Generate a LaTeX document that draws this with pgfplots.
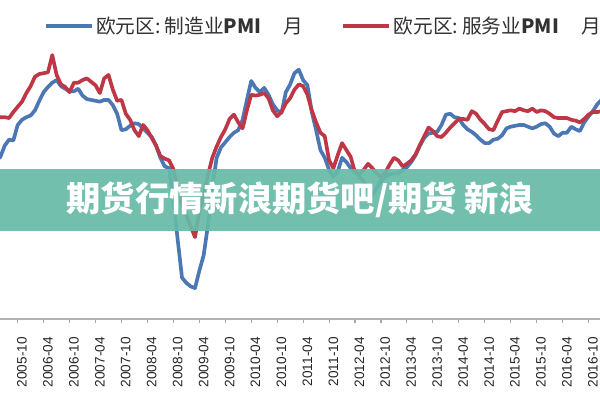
\documentclass[border=0pt]{standalone}
\usepackage{pgfplots}
\pgfplotsset{compat=1.18}
\usepackage{pgfplotstable}
\usepackage{fontspec}
\setmainfont{Liberation Sans}
\newfontfamily\cjk{Noto Sans CJK SC}
\definecolor{mfgblue}{RGB}{75,120,180}
\definecolor{svcred}{RGB}{190,55,70}
\definecolor{banner}{RGB}{104,186,168}
\definecolor{txtgray}{RGB}{50,50,50}

\pgfplotstableread{
m mfg svc
3 48.3 53.4
4 48.7 53.3
5 50.0 53.3
6 50.7 53.2
7 50.6 53.9
8 52.4 54.5
9 53.0 55.1
10 53.3 56.1
11 53.5 56.9
12 54.1 58.0
13 55.2 58.3
14 56.2 58.4
15 56.8 58.5
16 57.3 60.5
17 57.6 58.2
18 56.9 57.1
19 56.6 56.8
20 56.3 56.2
21 56.3 57.3
22 56.6 57.3
23 55.8 57.6
24 55.4 57.8
25 55.3 57.4
26 55.2 57.0
27 55.1 56.1
28 55.3 57.8
29 55.3 58.2
30 54.7 56.5
31 53.7 55.2
32 51.8 55.3
33 51.9 53.7
34 52.3 53.0
35 52.6 51.8
36 52.5 51.1
37 52.0 52.4
38 51.5 51.8
39 51.0 50.9
40 50.0 50.0
41 48.6 48.8
42 47.6 48.5
43 47.4 48.3
44 43.7 47.3
45 39.1 44.9
46 34.7 43.2
47 34.1 41.9
48 33.7 40.7
49 33.5 39.4
50 35.5 42.3
51 37.3 44.3
52 40.8 46.6
53 45.1 48.6
54 48.6 49.9
55 49.8 51.0
56 50.4 51.9
57 51.0 53.1
58 51.5 53.6
59 51.8 52.7
60 53.0 52.0
61 55.3 54.1
62 57.5 55.9
63 56.7 55.8
64 56.2 55.9
65 56.7 56.1
66 55.9 55.5
67 54.8 54.1
68 54.1 53.4
69 53.8 53.9
70 56.2 54.9
71 57.1 55.5
72 58.4 56.5
73 58.8 57.1
74 57.6 56.9
75 57.0 55.9
76 53.9 54.1
77 51.8 52.7
78 49.5 51.5
79 48.6 51.1
80 47.2 48.3
81 46.4 47.4
82 47.0 48.9
83 48.6 50.3
84 48.1 49.5
85 47.4 48.7
86 47.0 46.9
87 46.5 46.7
88 45.8 47.2
89 45.1 47.9
90 44.3 47.4
91 45.1 46.8
92 45.9 46.3
93 46.4 46.9
94 46.7 47.8
95 46.8 48.6
96 46.8 48.3
97 47.2 47.6
98 47.5 47.9
99 48.1 48.3
100 48.9 49.0
101 50.0 50.1
102 50.9 51.1
103 51.4 52.1
104 51.5 51.7
105 51.6 51.1
106 52.4 51.0
107 53.6 51.5
108 53.7 52.1
109 53.3 52.6
110 53.2 53.1
111 52.4 53.1
112 51.9 53.0
113 51.6 54.0
114 51.2 53.7
115 50.7 53.0
116 50.3 52.5
117 50.3 51.9
118 50.7 51.8
119 50.8 52.9
120 51.2 53.9
121 52.0 54.0
122 52.2 54.1
123 52.3 54.0
124 52.4 54.3
125 52.4 54.1
126 52.2 54.0
127 52.0 54.3
128 52.2 53.9
129 52.5 54.1
130 52.6 54.0
131 52.2 53.7
132 51.4 53.3
133 51.1 53.2
134 51.5 53.2
135 51.5 53.2
136 52.2 53.0
137 51.9 52.9
138 51.7 52.7
139 52.7 53.1
140 53.4 53.6
141 54.0 53.9
142 54.8 53.9
143 55.3 54.0
}\pmidata

\begin{document}
\begin{tikzpicture}
\useasboundingbox (0,0) rectangle (150mm,100mm);
\clip (0,0) rectangle (150mm,100mm);
\fill[white] (0,0) rectangle (150mm,100mm);
\begin{axis}[
  at={(0mm,20.25mm)}, anchor=south west,
  scale only axis, width=150mm, height=79.75mm,
  xmin=3.913, xmax=142.64, ymin=29.92, ymax=66.88,
  axis x line*=bottom, axis y line=none,
  axis line style={draw=black!30, line width=0.8pt},
  ytick=\empty,
  xtick={8,14,...,140},
  xticklabels={2005-10,2006-04,2006-10,2007-04,2007-10,2008-04,2008-10,2009-04,2009-10,2010-04,2010-10,2011-04,2011-10,2012-04,2012-10,2013-04,2013-10,2014-04,2014-10,2015-04,2015-10,2016-04,2016-10},
  tick align=outside, major tick length=1mm,
  xtick style={draw=black!35, line width=0.8pt},
  xticklabel style={font=\fontsize{9.7}{11}\selectfont, text=black!85, xshift=1.08mm, yshift=-2.3mm, rotate=90, anchor=east},
  legend columns=2,
  legend style={at={(0.0733,0.9185)}, anchor=west, draw=none, fill=none, inner sep=0pt,
    font=\cjk\fontsize{14}{16}\selectfont, text=txtgray,
    /tikz/every even column/.append style={column sep=9mm}},
  legend cell align=left,
  legend image code/.code={\draw[#1, line width=2.2pt] (0mm,0mm) -- (11.5mm,0mm);},
  clip=true,
]
\addplot[mfgblue, line width=2.6pt, line join=round] table[x=m, y=mfg] {\pmidata};
\addlegendentry{欧元区:\hspace{1mm}制造业\textbf{PMI}\hspace{5.5mm}月}
\addplot[svcred, line width=2.6pt, line join=round] table[x=m, y=svc] {\pmidata};
\addlegendentry{欧元区:\hspace{1mm}服务业\textbf{PMI}\hspace{5.5mm}月}
\end{axis}
\fill[banner, opacity=0.92] (0mm,42.25mm) rectangle (150mm,57.75mm);
\node[text=white, font=\cjk\bfseries\fontsize{24.4}{26}\selectfont] at (75mm,50mm) {期货行情新浪期货吧/期货 新浪};
\end{tikzpicture}
\end{document}
